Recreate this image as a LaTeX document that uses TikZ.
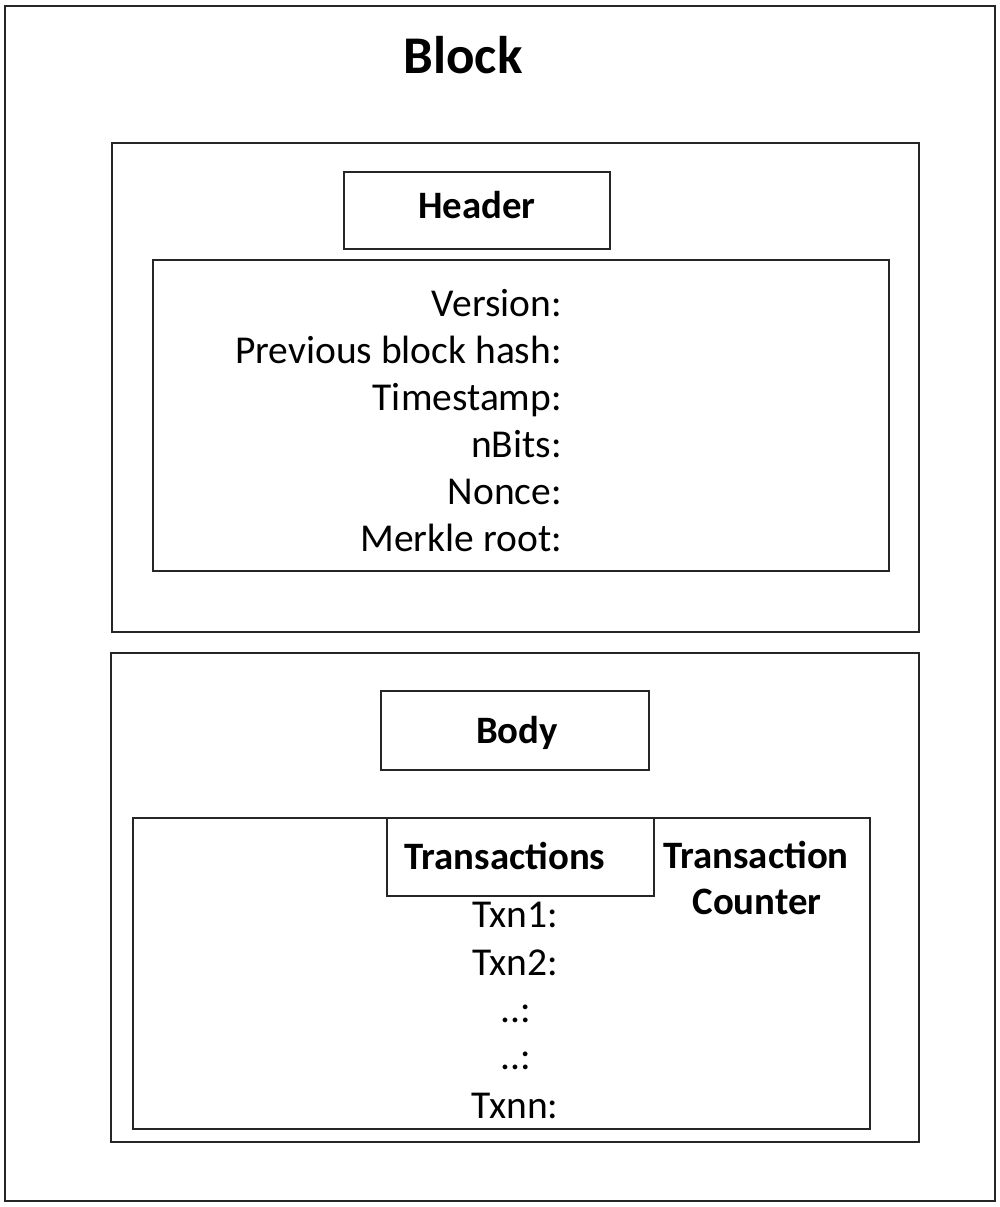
\documentclass[tikz,border=0pt]{standalone}
\usepackage{fontspec}
\setmainfont{Carlito}
\begin{document}
\begin{tikzpicture}[x=1pt,y=-1pt,
  frame/.style={draw=black!85, line width=2.4pt, inner sep=0pt, outer sep=0pt, anchor=north west},
  txt/.style={inner sep=0pt, font=\fontsize{39.5}{46}\selectfont},
  btxt/.style={inner sep=0pt, font=\fontsize{38.8}{46}\selectfont\bfseries},
  ttl/.style={inner sep=0pt, font=\fontsize{53}{60}\selectfont\bfseries}]
\useasboundingbox (0,0) rectangle (1000,1207);
% frames
\node[frame, minimum width=990, minimum height=1195] (outer) at (5,6) {};
\node[frame, minimum width=807, minimum height=489] (hdrc) at (112,143) {};
\node[frame, minimum width=266, minimum height=77] (hdrl) at (344,172) {};
\node[frame, minimum width=736, minimum height=311] (flds) at (153,260) {};
\node[frame, minimum width=808, minimum height=489] (bodyc) at (111,653) {};
\node[frame, minimum width=268, minimum height=79] (bodyl) at (381,691) {};
\node[frame, minimum width=737, minimum height=311] (txns) at (133,818) {};
\node[frame, minimum width=267, minimum height=78] (txl) at (387,818) {};
% titles
\node[ttl, anchor=base] (tblock) at (463,74) {Block};
\node[btxt, anchor=base] (theader) at (477,218) {Header};
\node[btxt, anchor=base] (tbody) at (517,743) {Body};
\node[btxt, anchor=base] (ttrans) at (505,869) {Transactions};
\node[btxt, anchor=base] (tcnt1) at (756,868) {Transaction};
\node[btxt, anchor=base] (tcnt2) at (757,914) {Counter};
% header fields
\node[txt, anchor=base east] (f1) at (562,316) {Version:};
\node[txt, anchor=base east] (f2) at (562,363) {Previous block hash:};
\node[txt, anchor=base east] (f3) at (562,410) {Timestamp:};
\node[txt, anchor=base east] (f4) at (562,457) {nBits:};
\node[txt, anchor=base east] (f5) at (562,504) {Nonce:};
\node[txt, anchor=base east] (f6) at (562,551) {Merkle root:};
% transactions
\node[txt, anchor=base] (x1) at (515,927) {Txn1:};
\node[txt, anchor=base] (x2) at (515,975) {Txn2:};
\node[txt, anchor=base] (x3) at (516,1022) {..:};
\node[txt, anchor=base] (x4) at (516,1069) {..:};
\node[txt, anchor=base] (x5) at (515,1118) {Txnn:};
\end{tikzpicture}
\end{document}
